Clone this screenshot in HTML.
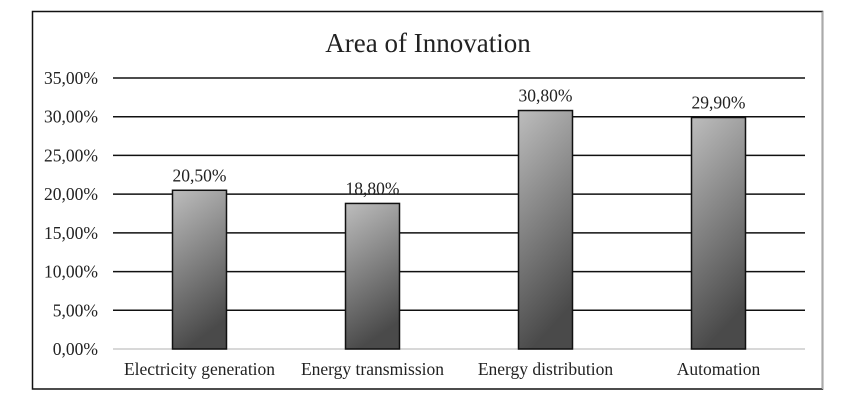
<!DOCTYPE html>
<html><head><meta charset="utf-8"><style>
body{margin:0;background:#fff;width:850px;height:402px;overflow:hidden}
text{font-family:"Liberation Serif",serif;fill:#222}
</style></head><body>
<svg id="chart" width="850" height="402" xmlns="http://www.w3.org/2000/svg">
<defs><linearGradient id="g" x1="0" y1="0" x2="0.25" y2="1"><stop offset="0" stop-color="#bdbdbd"/><stop offset="1" stop-color="#4a4a4a"/></linearGradient></defs>
<rect x="32.5" y="11.5" width="790" height="377.5" fill="#fff" stroke="#111" stroke-width="1.5"/>
<line x1="822.5" y1="11.5" x2="822.5" y2="389" stroke="#aaa" stroke-width="1.5"/>
<text x="428" y="52" font-size="27" text-anchor="middle">Area of Innovation</text>
<g id="grid"></g><g id="bars"></g>
</svg>
<script>
const categories=["Electricity generation","Energy transmission","Energy distribution","Automation"];
const values=[20.5,18.8,30.8,29.9];
const valueLabels=["20,50%","18,80%","30,80%","29,90%"];
const ticks=[0,5,10,15,20,25,30,35];
const tickLabels=["0,00%","5,00%","10,00%","15,00%","20,00%","25,00%","30,00%","35,00%"];
const NS="http://www.w3.org/2000/svg";
const x0=113,x1=805,yb=349,yt=78,maxV=35;
const y=v=>yb-v/maxV*(yb-yt);
const bw=(x1-x0)/categories.length;
const grid=document.getElementById('grid'),bars=document.getElementById('bars');
function mk(tag,a,p){const e=document.createElementNS(NS,tag);for(const k in a)e.setAttribute(k,a[k]);p.appendChild(e);return e;}
ticks.forEach((t,i)=>{
  const l=mk('line',{x1:x0,x2:x1,y1:y(t),y2:y(t),stroke:t===0?'#ccc':'#111','stroke-width':1.5},grid);
  
  
  const tx=mk('text',{x:98,y:y(t)+6,'font-size':17.5,'text-anchor':'end'},grid);
  tx.textContent=tickLabels[i];
  
  
});
categories.forEach((c,i)=>{
  const cx=x0+bw*(i+0.5);
  const r=mk('rect',{x:cx-27,y:y(values[i]),width:54,height:yb-y(values[i]),fill:'url(#g)',stroke:'#111','stroke-width':1.5},bars);
  
  
  const v=mk('text',{x:cx,y:y(values[i])-9,'font-size':17.5,'text-anchor':'middle'},bars);
  v.textContent=valueLabels[i];
  
  
  const t=mk('text',{x:cx,y:375,'font-size':17.5,'text-anchor':'middle'},bars);
  t.textContent=c;
  
  
});
</script>
</body></html>
